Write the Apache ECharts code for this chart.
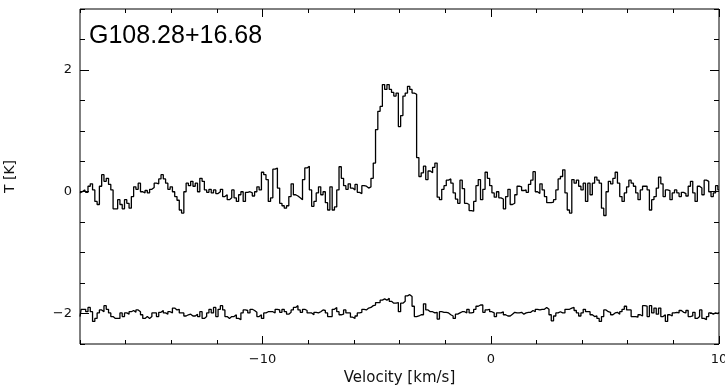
<!DOCTYPE html>
<html>
<head>
<meta charset="utf-8">
<script src="https://cdn.jsdelivr.net/npm/echarts@6/dist/echarts.min.js"></script>
<style>
  html, body { margin: 0; padding: 0; background: #fff; }
  #chart { width: 725px; height: 389px; }
</style>
</head>
<body>
<div id="chart"></div>
<script>
// source name and channel grid of the spectrum
const sourceName = 'G108.28+16.68'
const velStart = -18.0
const chanWidth = 0.1

// brightness temperature per channel (K)
const spectrum = [
  -0.02, 0.00, 0.03, -0.01, 0.09, 0.13, 0.03, -0.16, -0.21, 0.09,
  0.28, 0.17, 0.22, 0.12, 0.03, -0.28, -0.28, -0.13, -0.21, -0.28,
  -0.13, -0.19, -0.27, -0.08, 0.08, 0.04, 0.14, 0.00, -0.02, 0.02,
  -0.02, 0.04, 0.07, 0.14, 0.13, 0.21, 0.28, 0.21, 0.14, 0.04,
  0.08, 0.00, -0.08, -0.14, -0.30, -0.35, 0.00, 0.14, 0.10, 0.17,
  0.09, 0.14, 0.00, 0.22, 0.17, 0.03, -0.01, 0.04, -0.02, 0.03,
  -0.03, 0.00, 0.04, -0.08, -0.05, -0.13, -0.10, 0.03, -0.10, -0.16,
  -0.05, 0.00, -0.16, -0.01, 0.00, -0.02, -0.07, 0.00, 0.08, 0.03,
  0.32, 0.28, 0.20, -0.16, -0.10, 0.37, 0.39, 0.06, -0.19, -0.23,
  -0.27, -0.23, -0.08, 0.13, -0.05, -0.07, -0.10, -0.13, 0.20, 0.39,
  0.42, 0.03, -0.24, -0.16, -0.02, 0.08, -0.05, 0.00, -0.18, -0.30,
  0.08, -0.30, -0.25, 0.03, 0.41, 0.22, 0.10, 0.04, 0.13, 0.06,
  0.03, 0.12, -0.01, -0.03, 0.10, 0.09, 0.06, 0.08, 0.22, 0.47,
  1.02, 1.32, 1.40, 1.76, 1.68, 1.76, 1.68, 1.63, 1.57, 1.62,
  1.07, 1.25, 1.57, 1.62, 1.73, 1.68, 1.62, 1.60, 0.56, 0.25,
  0.31, 0.42, 0.20, 0.34, 0.31, 0.40, 0.47, -0.09, -0.13, 0.04,
  0.10, 0.19, 0.21, 0.14, -0.02, -0.12, -0.19, 0.19, 0.05, -0.19,
  -0.21, -0.31, -0.32, -0.16, 0.10, 0.20, -0.13, 0.04, 0.32, 0.22,
  0.10, -0.02, -0.09, 0.00, -0.10, -0.12, -0.28, -0.08, 0.04, -0.21,
  -0.19, -0.05, 0.09, 0.08, 0.02, 0.03, -0.01, 0.12, 0.19, 0.33,
  0.00, -0.03, 0.13, 0.03, -0.08, -0.18, -0.18, -0.17, -0.13, 0.03,
  0.21, 0.25, 0.36, -0.02, -0.30, -0.35, 0.20, 0.14, 0.19, 0.09,
  0.03, 0.14, -0.16, 0.14, -0.05, 0.14, 0.24, 0.19, 0.14, -0.27,
  -0.39, 0.00, 0.17, 0.13, 0.22, 0.32, 0.14, -0.08, -0.16, -0.02,
  0.08, 0.19, 0.14, 0.09, -0.02, -0.13, 0.03, 0.09, 0.09, 0.03,
  -0.30, -0.13, -0.08, 0.06, 0.24, 0.13, -0.08, 0.03, 0.02, -0.13,
  -0.02, 0.03, -0.02, -0.08, -0.01, -0.03, -0.07, 0.09, 0.17, -0.02,
  -0.16, 0.09, 0.06, -0.05, 0.19, 0.17, 0.00, -0.08, -0.02, 0.10, 0.03
]

// second (offset) spectrum as plotted around -2 K
const offsetSpectrum = [
  -2.05, -1.93, -1.93, -1.97, -1.90, -1.97, -2.13, -2.08, -1.99, -1.94,
  -1.97, -1.87, -1.93, -1.99, -2.05, -2.08, -2.08, -2.08, -1.99, -2.05,
  -1.99, -2.01, -1.97, -1.95, -1.98, -1.94, -1.97, -2.02, -2.08, -2.05,
  -2.08, -2.05, -1.99, -1.99, -2.05, -1.98, -1.95, -1.99, -2.01, -1.97,
  -1.99, -1.91, -1.94, -1.93, -1.99, -1.99, -2.04, -2.02, -2.01, -2.04,
  -2.04, -2.01, -2.05, -1.97, -2.08, -2.05, -1.99, -1.93, -1.99, -1.90,
  -2.05, -1.93, -1.87, -1.94, -2.05, -2.08, -2.05, -2.05, -2.02, -2.08,
  -2.10, -1.99, -1.94, -1.95, -1.99, -1.93, -1.95, -1.98, -2.05, -2.02,
  -2.08, -1.99, -1.97, -1.97, -1.97, -1.99, -1.93, -1.94, -1.98, -1.93,
  -1.97, -2.01, -1.98, -1.94, -1.90, -1.87, -1.94, -1.98, -1.93, -1.95,
  -1.99, -1.99, -2.02, -1.98, -1.99, -1.97, -1.94, -1.95, -1.99, -2.05,
  -2.05, -1.93, -1.90, -1.97, -2.02, -2.01, -1.94, -1.99, -1.99, -2.06,
  -2.08, -2.04, -1.99, -1.98, -1.93, -1.94, -1.91, -1.90, -1.87, -1.86,
  -1.82, -1.82, -1.78, -1.76,
  -1.78, -1.75, -1.80, -1.83, -1.83, -1.82, -1.97, -1.83, -1.80, -1.71,
  -1.69, -1.72, -1.88, -2.05, -2.04, -2.02, -2.02, -1.84, -1.94, -1.97,
  -1.97, -1.99, -1.98, -2.09, -1.97, -1.98, -1.98, -1.99, -2.02, -2.04,
  -2.08, -2.01, -1.99, -1.97, -1.97, -1.99, -1.93, -1.99, -1.98, -1.93,
  -1.88, -1.86, -1.86, -1.98, -1.94, -1.93, -1.97, -1.99, -2.05, -1.99,
  -1.99, -1.97, -2.02, -2.04, -2.04, -2.01, -1.98, -1.99, -1.99, -1.98,
  -2.01, -1.99, -1.98, -1.98, -1.95, -1.97, -1.93, -1.94, -1.93, -1.93,
  -1.90, -1.93, -2.02, -2.12, -2.04, -1.99, -1.97, -1.99, -1.99, -1.93,
  -1.93, -1.91, -1.90, -1.95, -1.99, -2.04, -1.99, -1.93, -1.97, -1.97,
  -2.02, -2.05, -2.04, -2.08, -2.13, -2.05, -1.94, -1.97, -1.98, -2.02,
  -1.99, -1.98, -2.01, -1.97, -1.93, -1.88, -1.94, -1.94, -2.05, -2.05,
  -2.06, -2.02, -2.04, -1.87, -1.88, -2.05, -1.87, -1.99, -1.91, -2.01,
  -1.91, -2.05, -2.02, -2.13, -2.02, -2.04, -1.99, -1.98, -1.99, -1.95,
  -1.98, -1.99, -1.95, -2.05, -2.04, -1.98, -2.08, -2.05, -1.94, -2.08,
  -2.10, -2.05, -1.99, -2.01, -1.99, -2.00, -1.98
]

// labelled (major) ticks
const xMajor = [-10, 0, 10]
const yMajor = [-2, 0, 2]

const toPairs = arr => arr.map((t, i) => [+(velStart + i * chanWidth).toFixed(2), t])
const fmt = v => String(v).replace('-', '\u2212')

const tickFont = { fontFamily: 'DejaVu Sans', fontSize: 13, color: '#111' }
const black = { color: '#000', width: 1 }

function xAx (pos, len, major, withLabels) {
  const ax = {
    type: 'value', position: pos, min: -18, max: 10, interval: 2,
    axisLine: { show: false, onZero: false }, splitLine: { show: false },
    axisTick: { inside: true, length: len, lineStyle: black },
    axisLabel: { show: false }
  }
  if (major) ax.axisTick.customValues = xMajor
  if (withLabels) {
    ax.axisLabel = Object.assign({ show: true, customValues: xMajor, formatter: fmt, margin: 9 }, tickFont)
    ax.name = 'Velocity [km/s]'
    ax.nameLocation = 'middle'
    ax.nameGap = 25
    ax.nameTextStyle = { fontFamily: 'DejaVu Sans', fontSize: 15, color: '#111' }
  }
  return ax
}

function yAx (pos, len, major, withLabels) {
  const ax = {
    type: 'value', position: pos, min: -2.5, max: 3, interval: 0.5,
    axisLine: { show: false, onZero: false }, splitLine: { show: false },
    axisTick: { inside: true, length: len, lineStyle: black },
    axisLabel: { show: false }
  }
  if (major) ax.axisTick.customValues = yMajor
  if (withLabels) {
    ax.axisLabel = Object.assign({ show: true, customValues: yMajor, formatter: fmt, margin: 8 }, tickFont)
    ax.name = 'T [K]'
    ax.nameLocation = 'middle'
    ax.nameGap = 63
    ax.nameTextStyle = { fontFamily: 'DejaVu Sans', fontSize: 14, color: '#111' }
  }
  return ax
}

const chart = echarts.init(document.getElementById('chart'))
chart.setOption({
  animation: false,
  backgroundColor: '#fff',
  grid: {
    left: 80, right: 6, top: 9, bottom: 45, outerBoundsMode: 'none',
    show: true, borderColor: '#000', borderWidth: 1, backgroundColor: 'transparent'
  },
  graphic: [{
    type: 'text', left: 89, top: 24,
    style: { text: sourceName, fontFamily: 'Liberation Sans', fontSize: 25, fill: '#000' }
  }],
  xAxis: [xAx('bottom', 4, false, true), xAx('bottom', 8, true, false), xAx('top', 4, false, false), xAx('top', 8, true, false)],
  yAxis: [yAx('left', 5, false, true), yAx('left', 9, true, false), yAx('right', 5, false, false), yAx('right', 9, true, false)],
  series: [
    {
      type: 'line', step: 'middle', symbol: 'none', xAxisIndex: 0, yAxisIndex: 0,
      data: toPairs(spectrum), lineStyle: { color: '#000', width: 1.3 }, silent: true
    },
    {
      type: 'line', step: 'middle', symbol: 'none', xAxisIndex: 0, yAxisIndex: 0,
      data: toPairs(offsetSpectrum), lineStyle: { color: '#000', width: 1.3 }, silent: true
    }
  ]
})
</script>
</body>
</html>
